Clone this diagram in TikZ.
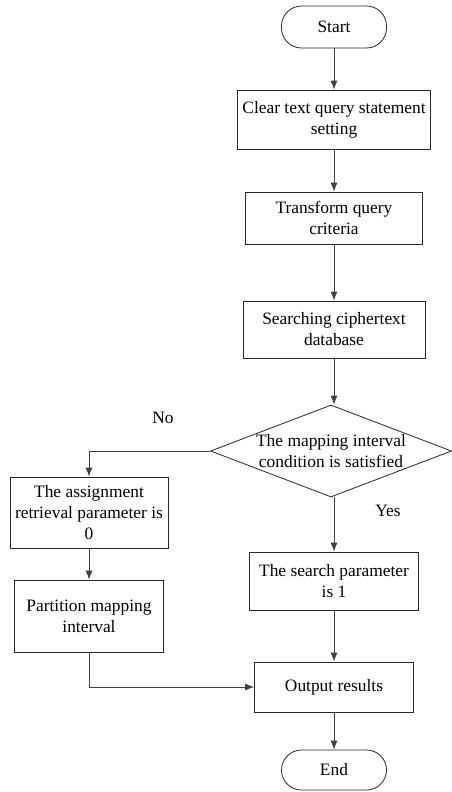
\documentclass[tikz,border=0pt]{standalone}
\usepackage{fontspec}
\setmainfont{Liberation Serif}
\usetikzlibrary{arrows.meta,shapes.geometric}
\tikzset{
  box/.style={draw=black!85, line width=0.8pt, rectangle, inner sep=0pt, align=center, font=\fontsize{17.4}{21}\selectfont},
  term/.style={box, rounded corners=20pt},
  arr/.style={draw=black!75, line width=0.8pt, -{Latex[length=9pt,width=7pt]}},
  lbl/.style={inner sep=0pt, font=\fontsize{17.4}{21}\selectfont},
}
\begin{document}
\begin{tikzpicture}[x=1pt,y=-1pt]
\useasboundingbox (0,0) rectangle (452,792);
\node[term, minimum width=105pt, minimum height=42pt] (start) at (334,27) {Start};
\node[box, minimum width=193pt, minimum height=59pt] (clear) at (334,119.5) {Clear text query statement\\setting};
\node[box, minimum width=177pt, minimum height=52pt] (trans) at (334,218) {Transform query\\criteria};
\node[box, minimum width=182pt, minimum height=57pt] (search) at (334,329.5) {Searching ciphertext\\database};
\node[diamond, draw=black!85, line width=0.8pt, minimum width=241pt, minimum height=92pt, inner sep=0pt] (dec) at (331,451) {};
\node[lbl, align=center] (dectext) at (dec.center) {The mapping interval\\condition is satisfied};
\node[box, minimum width=158pt, minimum height=71pt] (assign) at (89,512.5) {The assignment\\retrieval parameter is\\0};
\node[box, minimum width=149pt, minimum height=72pt] (part) at (89,616) {Partition mapping\\interval};
\node[box, minimum width=169pt, minimum height=58pt] (sparam) at (334,581) {The search parameter\\is 1};
\node[box, minimum width=159pt, minimum height=50pt] (out) at (334,687) {Output results};
\node[term, minimum width=105pt, minimum height=40pt] (end) at (334,770) {End};
\node[lbl] (no) at (163,418) {No};
\node[lbl] (yes) at (388,511) {Yes};
\draw[arr] (start) -- (clear);
\draw[arr] (clear) -- (trans);
\draw[arr] (trans) -- (search);
\draw[arr] (search) -- (search.south |- dec.north);
\draw[arr] (dec.west) -| (assign.north);
\draw[arr] (dec.south -| sparam.north) -- (sparam.north);
\draw[arr] (assign) -- (part);
\draw[arr] (part.south) |- (out.west);
\draw[arr] (sparam) -- (out);
\draw[arr] (out) -- (end);
\end{tikzpicture}
\end{document}
